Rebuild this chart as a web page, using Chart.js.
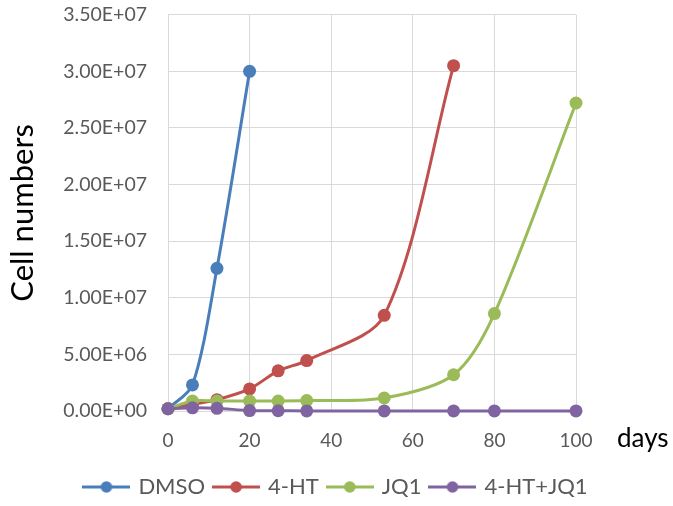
<!DOCTYPE html>
<html lang="en">
<head>
    <meta charset="UTF-8">
    <title>Cell numbers</title>
    <script src="https://cdn.jsdelivr.net/npm/chart.js"></script>
    <style>
        html, body { margin: 0; padding: 0; background: #fff; }
        .chart-container { width: 673px; height: 506px; }
    </style>
</head>
<body>
    <div class="chart-container">
        <canvas id="cellChart"></canvas>
    </div>
    <script>
        // Sampling days and cell counts
        const days = [0, 6, 12, 20, 27, 34, 53, 70, 80, 100];
        const dmso = [2.0e5, 2.3e6, 1.26e7, 3.0e7];
        const ht = [2.0e5, 6.0e5, 1.0e6, 1.95e6, 3.55e6, 4.45e6, 8.45e6, 3.05e7];
        const jq1 = [2.0e5, 8.8e5, 8.8e5, 8.8e5, 8.8e5, 9.2e5, 1.15e6, 3.2e6, 8.6e6, 2.72e7];
        const htJq1 = [2.0e5, 2.8e5, 2.4e5, 4.0e4, 2.0e4, 1.0e4, 5.0e3, 5.0e3, 5.0e3, 5.0e3];

        const seriesNames = ['DMSO', '4-HT', 'JQ1', '4-HT+JQ1'];
        const seriesColors = ['#4A7EBB', '#C0504D', '#9BBB59', '#8064A2'];
        const seriesValues = [dmso, ht, jq1, htJq1];

        const FONT = 'Lato';
        const GRID = '#d9d9d9';
        const TEXT = '#595959';

        function toPoints(values) {
            return values.map((v, i) => ({ x: days[i], y: v }));
        }

        // Excel style: 3.50E+07
        function sci(v) {
            if (v === 0) return '0.00E+00';
            const exp = Math.floor(Math.log10(Math.abs(v)) + 1e-9);
            const mant = v / Math.pow(10, exp);
            const sign = exp < 0 ? '-' : '+';
            return mant.toFixed(2) + 'E' + sign + String(Math.abs(exp)).padStart(2, '0');
        }

        // legend marker: line with a dot in the middle
        function legendMarker(color) {
            const c = document.createElement('canvas');
            c.width = 48;
            c.height = 14;
            const g = c.getContext('2d');
            g.strokeStyle = color;
            g.lineWidth = 3;
            g.beginPath();
            g.moveTo(0, 7);
            g.lineTo(48, 7);
            g.stroke();
            g.fillStyle = color;
            g.beginPath();
            g.arc(24, 7, 5.8, 0, Math.PI * 2);
            g.fill();
            return c;
        }
        const markers = seriesColors.map(legendMarker);

        const daysLabel = {
            id: 'daysLabel',
            afterDraw(chart) {
                const ctx = chart.ctx;
                const xs = chart.scales.x;
                ctx.save();
                ctx.font = '26px ' + FONT;
                ctx.fillStyle = '#000';
                ctx.textAlign = 'left';
                ctx.textBaseline = 'alphabetic';
                ctx.fillText('days', xs.right + 41, xs.top + 36);
                ctx.restore();
            }
        };

        const ctx = document.getElementById('cellChart').getContext('2d');
        const cellChart = new Chart(ctx, {
            type: 'line',
            data: {
                datasets: seriesNames.map((name, i) => ({
                    label: name,
                    data: toPoints(seriesValues[i]),
                    borderColor: seriesColors[i],
                    backgroundColor: seriesColors[i],
                    borderWidth: 3,
                    pointRadius: 6.5,
                    pointHoverRadius: 6.5,
                    pointBorderWidth: 0,
                    tension: 0.3,
                    fill: false,
                    clip: false,
                    order: seriesNames.length - i
                }))
            },
            options: {
                responsive: true,
                maintainAspectRatio: false,
                animation: false,
                layout: { padding: { top: 1, left: 0, right: 0, bottom: -2 } },
                plugins: {
                    tooltip: { enabled: false },
                    legend: {
                        position: 'bottom',
                        labels: {
                            usePointStyle: true,
                            pointStyleWidth: 42,
                            padding: 10,
                            color: TEXT,
                            font: { family: FONT, size: 22 },
                            generateLabels(chart) {
                                return chart.data.datasets.map((ds, i) => ({
                                    text: ds.label,
                                    fillStyle: ds.borderColor,
                                    strokeStyle: ds.borderColor,
                                    fontColor: TEXT,
                                    lineWidth: 0,
                                    pointStyle: markers[i],
                                    datasetIndex: i,
                                    hidden: false
                                }));
                            }
                        }
                    }
                },
                scales: {
                    x: {
                        type: 'linear',
                        min: 0,
                        max: 100,
                        afterFit(scale) { scale.height = 55; },
                        ticks: {
                            stepSize: 20,
                            padding: 18,
                            color: TEXT,
                            font: { family: FONT, size: 19 },
                            maxRotation: 0
                        },
                        grid: { color: GRID, lineWidth: 1, drawTicks: false },
                        border: { color: GRID }
                    },
                    y: {
                        min: 0,
                        max: 3.5e7,
                        afterFit(scale) { scale.width = 168; },
                        title: {
                            display: true,
                            text: 'Cell numbers',
                            color: '#000',
                            font: { family: FONT, size: 31 },
                            padding: { top: 4, bottom: 0 }
                        },
                        ticks: {
                            stepSize: 5e6,
                            padding: 3,
                            color: TEXT,
                            font: { family: FONT, size: 19.5 },
                            callback: (v) => sci(v)
                        },
                        // invisible tick marks push the labels away from the plot
                        grid: { color: GRID, lineWidth: 1, drawTicks: true, tickLength: 18, tickColor: 'rgba(0,0,0,0)' },
                        border: { color: GRID }
                    },
                    spacer: {
                        position: 'right',
                        afterFit(scale) { scale.width = 97; },
                        ticks: { display: false },
                        grid: { display: false },
                        border: { display: false }
                    }
                }
            },
            plugins: [daysLabel]
        });
    </script>
</body>
</html>
